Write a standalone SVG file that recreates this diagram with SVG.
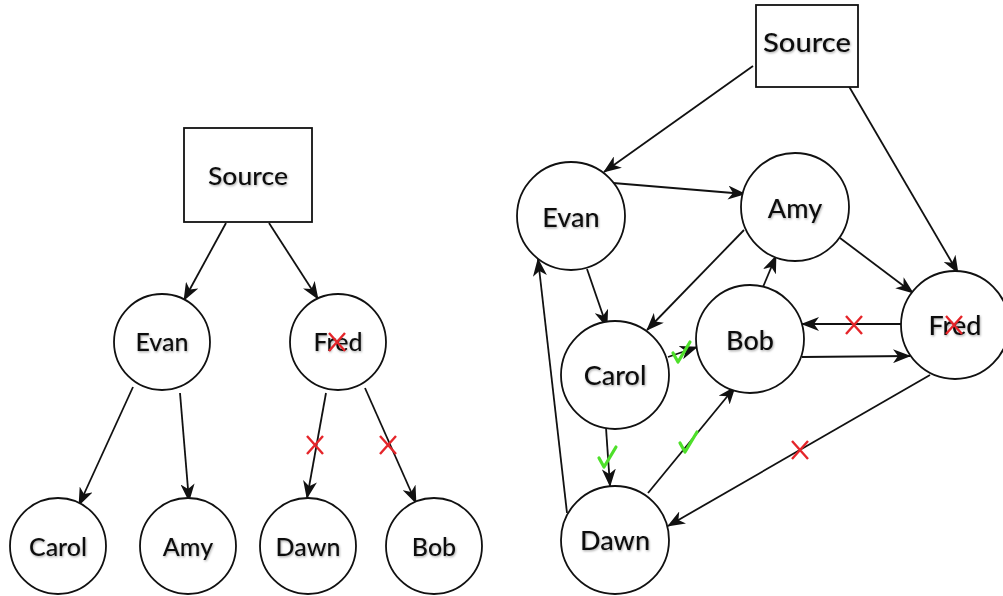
<svg xmlns="http://www.w3.org/2000/svg" width="1003" height="596" viewBox="0 0 1003 596">
<style>
.node{fill:#fff;stroke:#111;stroke-width:1.8}
.lbl{font-family:Lato,"Open Sans","Liberation Sans",sans-serif;fill:#111;text-anchor:middle;font-weight:500;filter:url(#sh)}
.s{font-size:25px}
.b{font-size:27px}
.edge{stroke:#111;stroke-width:1.8;fill:none}
.arr{marker-end:url(#ah)}
.x{stroke:#e5252a;stroke-width:2.4;fill:none}
.ok{stroke:#4ee02a;stroke-width:3.2;fill:none;stroke-linecap:round;stroke-linejoin:round}
</style>
<defs>
<filter id="sh" x="-10%" y="-20%" width="130%" height="150%">
<feDropShadow dx="0.8" dy="1.2" stdDeviation="0.9" flood-color="#000" flood-opacity="0.35"/>
</filter>
<marker id="ah" markerUnits="userSpaceOnUse" markerWidth="18" markerHeight="14" viewBox="0 0 18 14" refX="17" refY="7" orient="auto">
<path d="M0,0 L18,7 L0,14 L5,7 z" fill="#111"/>
</marker>
<g id="xmark"><path d="M-8,-9 L8,9 M8,-9 L-8,9"/></g>
<g id="check"><path d="M-8,0 L-3,9 L9,-11"/></g>
</defs>
<rect width="1003" height="596" fill="#fff"/>

<g id="connectors">
<line class="edge arr" x1="226" y1="223" x2="184" y2="300"/>
<line class="edge arr" x1="269" y1="223" x2="318" y2="299"/>
<line class="edge arr" x1="133" y1="387" x2="79" y2="505"/>
<line class="edge arr" x1="180" y1="393" x2="189" y2="501"/>
<line class="edge arr" x1="326" y1="393" x2="307" y2="498"/>
<line class="edge arr" x1="365" y1="388" x2="416" y2="503"/>
<line class="edge arr" x1="753" y1="66" x2="604" y2="172"/>
<line class="edge arr" x1="847" y1="83" x2="958" y2="273"/>
<line class="edge arr" x1="613" y1="183" x2="745" y2="194"/>
<line class="edge arr" x1="840" y1="238" x2="913" y2="293"/>
<line class="edge arr" x1="744" y1="230" x2="647" y2="330"/>
<line class="edge arr" x1="763" y1="287" x2="776" y2="256"/>
<line class="edge arr" x1="587" y1="269" x2="607" y2="327"/>
<line class="edge arr" x1="567" y1="513" x2="538" y2="259"/>
<line class="edge arr" x1="668" y1="357" x2="697" y2="347"/>
<line class="edge arr" x1="901" y1="324" x2="802" y2="324"/>
<line class="edge arr" x1="802" y1="357" x2="910" y2="356"/>
<line class="edge arr" x1="606" y1="428" x2="610" y2="486"/>
<line class="edge arr" x1="648" y1="493" x2="735" y2="387"/>
<line class="edge arr" x1="930" y1="375" x2="668" y2="526"/>
</g>

<g id="left-source"><rect class="node" x="184" y="128" width="128" height="94"/><text class="lbl s" x="248" y="185" textLength="80" lengthAdjust="spacingAndGlyphs">Source</text></g>
<g id="left-evan"><circle class="node" cx="162" cy="342" r="48"/><text class="lbl s" x="162" y="351">Evan</text></g>
<g id="left-fred"><circle class="node" cx="338" cy="342" r="48"/><text class="lbl s" x="338" y="351">Fred</text></g>
<g id="left-carol"><circle class="node" cx="58" cy="546" r="48"/><text class="lbl s" x="58" y="556">Carol</text></g>
<g id="left-amy"><circle class="node" cx="188" cy="546" r="48"/><text class="lbl s" x="188" y="556">Amy</text></g>
<g id="left-dawn"><circle class="node" cx="308" cy="546" r="48"/><text class="lbl s" x="308" y="556">Dawn</text></g>
<g id="left-bob"><circle class="node" cx="434" cy="546" r="48"/><text class="lbl s" x="434" y="556">Bob</text></g>

<g id="right-source"><rect class="node" x="756" y="5" width="102" height="82"/><text class="lbl b" x="807" y="52" textLength="88" lengthAdjust="spacingAndGlyphs">Source</text></g>
<g id="right-evan"><circle class="node" cx="571" cy="216" r="54"/><text class="lbl b" x="571" y="227">Evan</text></g>
<g id="right-amy"><circle class="node" cx="795" cy="207" r="54"/><text class="lbl b" x="795" y="218">Amy</text></g>
<g id="right-carol"><circle class="node" cx="615" cy="375" r="54"/><text class="lbl b" x="615" y="385">Carol</text></g>
<g id="right-bob"><circle class="node" cx="750" cy="339" r="54"/><text class="lbl b" x="750" y="350">Bob</text></g>
<g id="right-fred"><circle class="node" cx="955" cy="325" r="54"/><text class="lbl b" x="955" y="335">Fred</text></g>
<g id="right-dawn"><circle class="node" cx="615" cy="540" r="54"/><text class="lbl b" x="615" y="550">Dawn</text></g>

<g id="marks">
<use href="#xmark" class="x" x="337" y="342"/>
<use href="#xmark" class="x" x="315" y="445"/>
<use href="#xmark" class="x" x="388" y="445"/>
<use href="#xmark" class="x" x="854" y="325"/>
<use href="#xmark" class="x" x="954" y="325"/>
<use href="#xmark" class="x" x="800" y="450"/>
<use href="#check" class="ok" x="681" y="353"/>
<use href="#check" class="ok" x="607" y="458"/>
<use href="#check" class="ok" x="688" y="443"/>
</g>
</svg>
